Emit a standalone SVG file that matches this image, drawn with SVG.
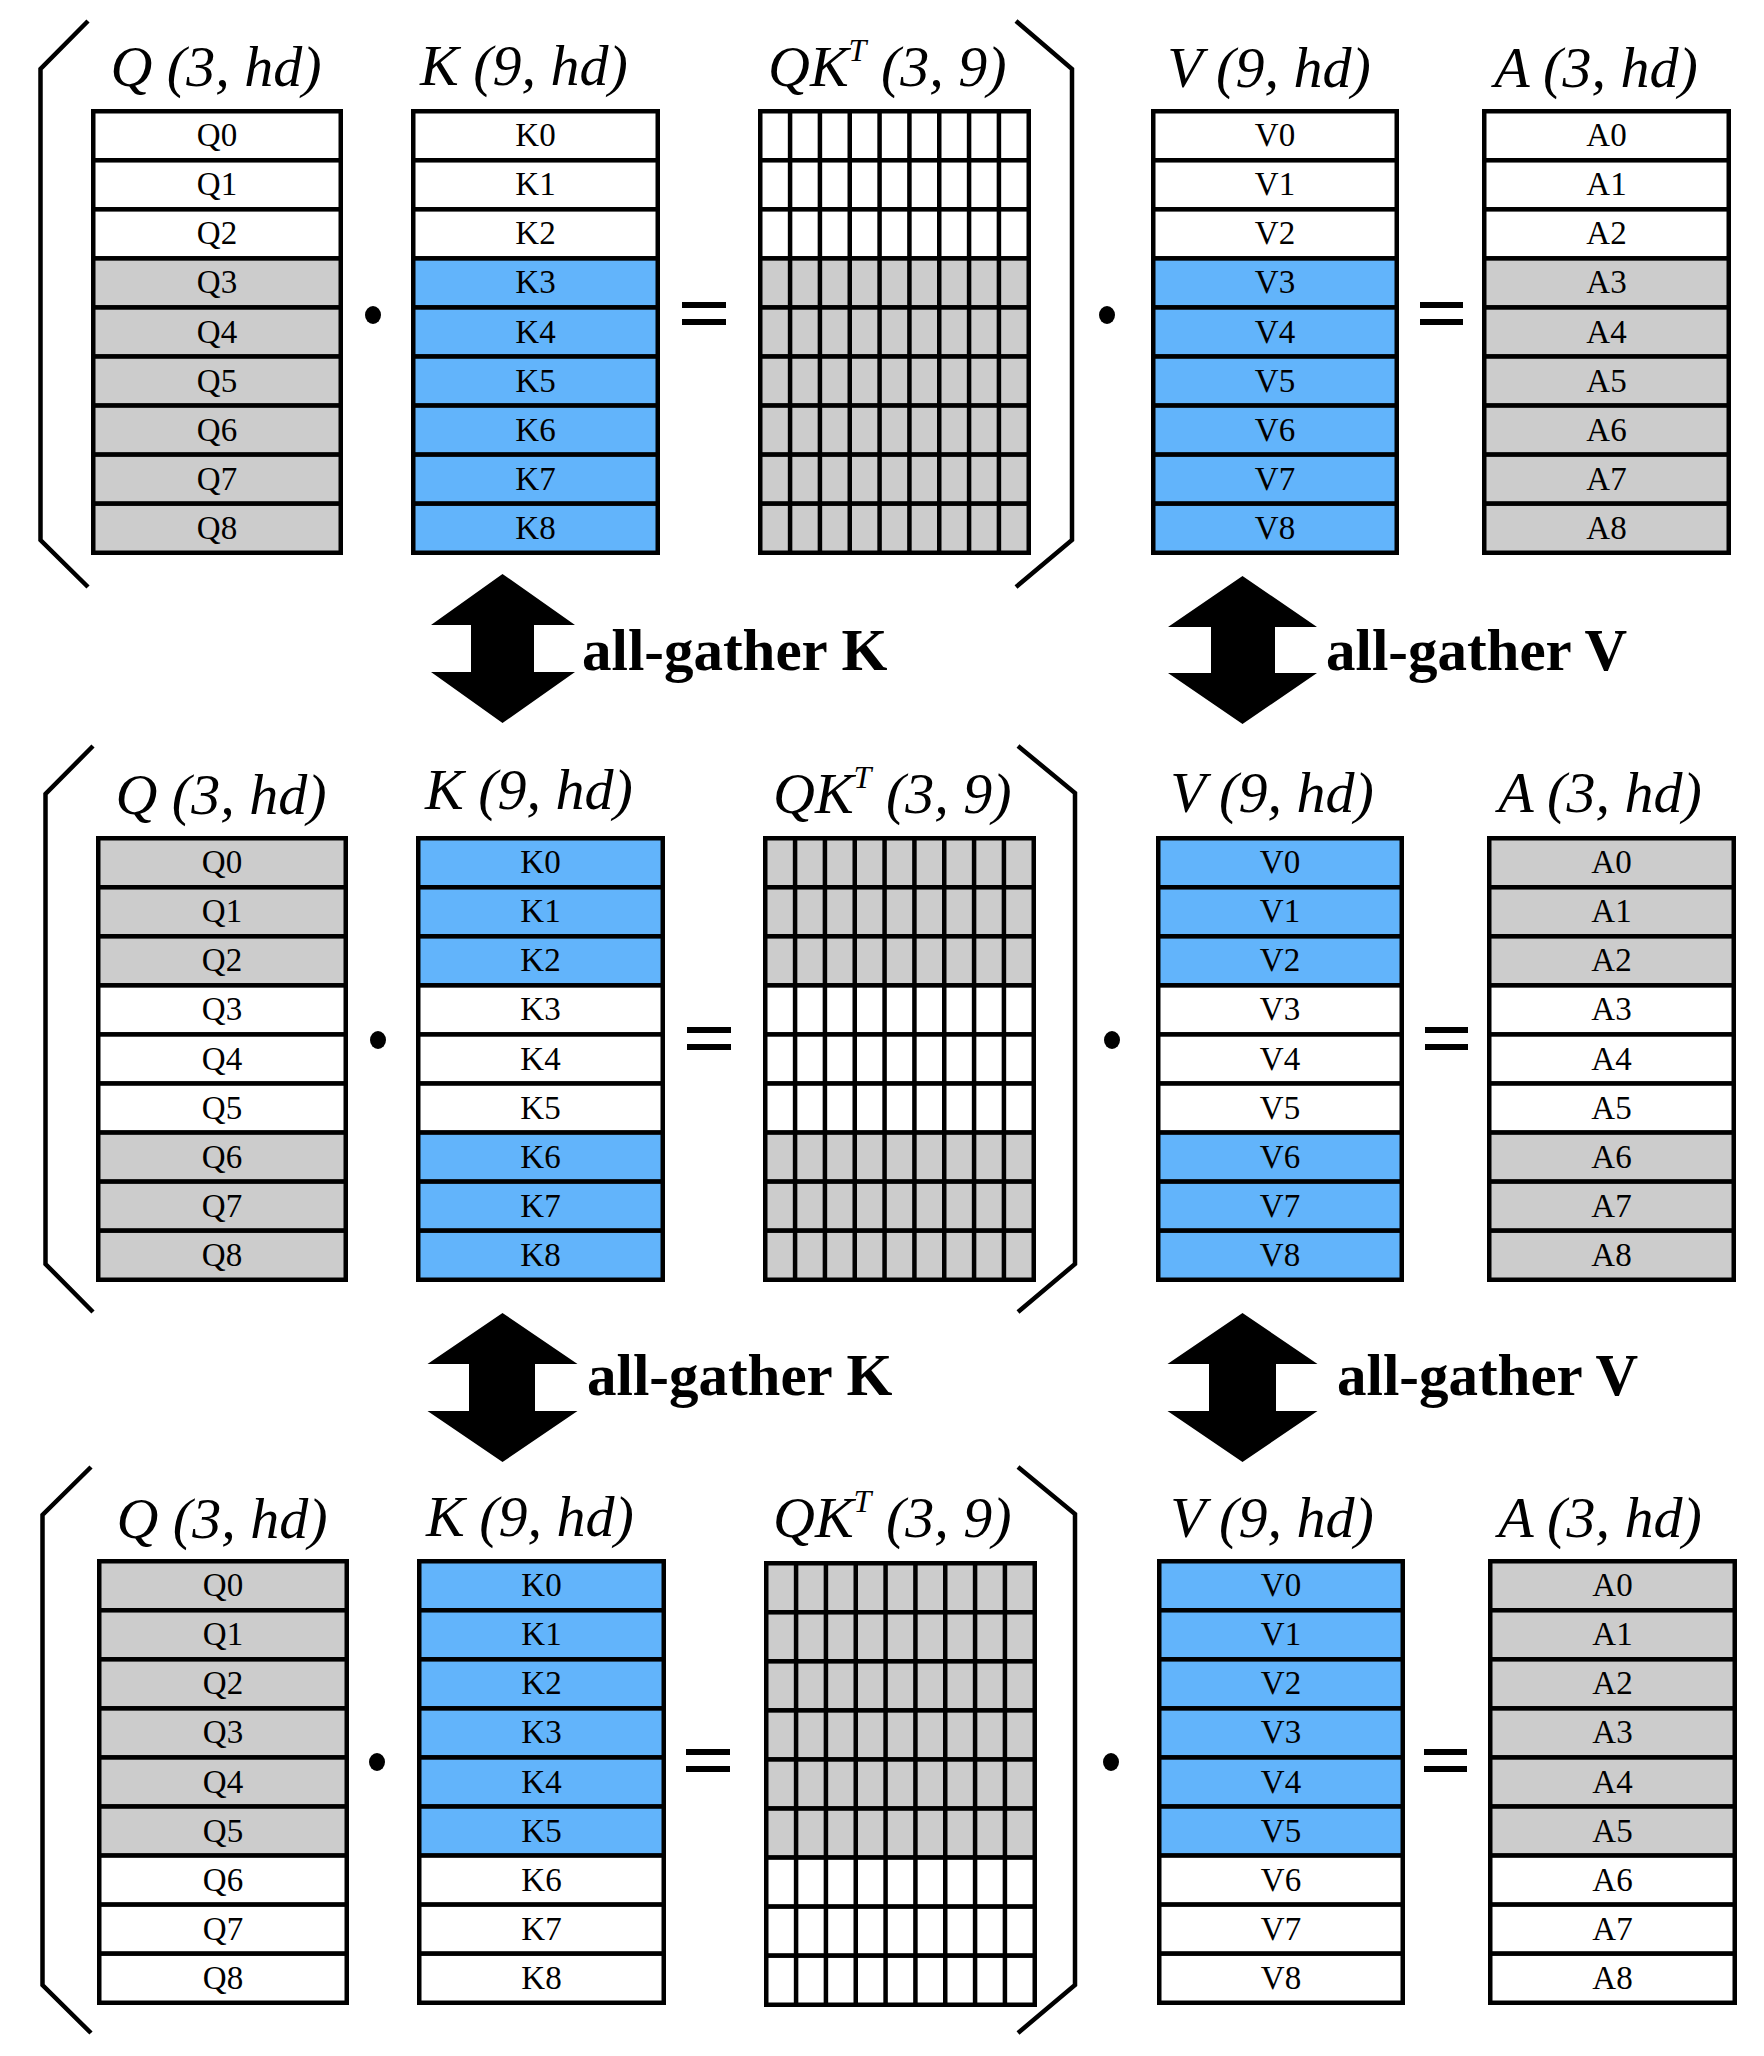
<svg xmlns="http://www.w3.org/2000/svg" width="1764" height="2056" viewBox="0 0 1764 2056">
<style>
.w{fill:#ffffff}.g{fill:#cccccc}.b{fill:#62b4fb}
rect.c{stroke:#000;stroke-width:4.5}
.lb{font-family:"Liberation Serif","Times New Roman",serif;font-size:33px;text-anchor:middle;fill:#000}
.tt{font-family:"Liberation Serif","Times New Roman",serif;font-style:italic;font-size:58px;fill:#000}
.ttm{text-anchor:middle}
.brk{fill:none;stroke:#000;stroke-width:4.5}
.gl{fill:none;stroke:#000;stroke-width:4.5}
.ag{font-family:"Liberation Serif","Times New Roman",serif;font-weight:bold;font-size:59px;fill:#000}
.arr{fill:#000}
</style>
<defs>
<path id="gridlines" class="gl" d="M32.08 2.25V443.75M61.92 2.25V443.75M91.75 2.25V443.75M121.58 2.25V443.75M151.42 2.25V443.75M181.25 2.25V443.75M211.08 2.25V443.75M240.92 2.25V443.75"/>
<g id="ops">
<ellipse cx="373" cy="315" rx="8" ry="9" fill="#000"/>
<rect x="682" y="302" width="44" height="6" fill="#000"/>
<rect x="682" y="319" width="44" height="6" fill="#000"/>
<ellipse cx="1107" cy="315" rx="8" ry="9" fill="#000"/>
<rect x="1420" y="302" width="43" height="6" fill="#000"/>
<rect x="1420" y="319" width="43" height="6" fill="#000"/>
</g>
</defs>

<!-- ================= PANEL 1 ================= -->
<g id="panel1">
<g id="p1-bracket-left"><path class="brk" d="M88 21L40.5 69V540L88 587"/></g>
<g id="p1-bracket-right"><path class="brk" d="M1016 21L1072 69V540L1016 587"/></g>
<g id="p1-titles">
<text class="tt ttm" x="216" y="86">Q (3, hd)</text>
<text class="tt ttm" x="524" y="85">K (9, hd)</text>
<text class="tt" x="768" y="86">QK<tspan font-size="32" dy="-25">T</tspan><tspan dy="25"> (3, 9)</tspan></text>
<text class="tt ttm" x="1269" y="87">V (9, hd)</text>
<text class="tt ttm" x="1596" y="87">A (3, hd)</text>
</g>
<g id="p1-ops"><use href="#ops"/></g>
<g id="p1-Q" transform="translate(91,109)">
<rect class="c w" x="2.25" y="2.25" width="247.5" height="49.06"/><rect class="c w" x="2.25" y="51.31" width="247.5" height="49.06"/><rect class="c w" x="2.25" y="100.36" width="247.5" height="49.06"/><rect class="c g" x="2.25" y="149.42" width="247.5" height="49.06"/><rect class="c g" x="2.25" y="198.47" width="247.5" height="49.06"/><rect class="c g" x="2.25" y="247.53" width="247.5" height="49.06"/><rect class="c g" x="2.25" y="296.58" width="247.5" height="49.06"/><rect class="c g" x="2.25" y="345.64" width="247.5" height="49.06"/><rect class="c g" x="2.25" y="394.69" width="247.5" height="49.06"/>
<text class="lb" x="126" y="37.3">Q0</text><text class="lb" x="126" y="86.3">Q1</text><text class="lb" x="126" y="135.4">Q2</text><text class="lb" x="126" y="184.4">Q3</text><text class="lb" x="126" y="233.5">Q4</text><text class="lb" x="126" y="282.6">Q5</text><text class="lb" x="126" y="331.6">Q6</text><text class="lb" x="126" y="380.7">Q7</text><text class="lb" x="126" y="429.7">Q8</text>
</g>
<g id="p1-K" transform="translate(411,109)">
<rect class="c w" x="2.25" y="2.25" width="244.5" height="49.06"/><rect class="c w" x="2.25" y="51.31" width="244.5" height="49.06"/><rect class="c w" x="2.25" y="100.36" width="244.5" height="49.06"/><rect class="c b" x="2.25" y="149.42" width="244.5" height="49.06"/><rect class="c b" x="2.25" y="198.47" width="244.5" height="49.06"/><rect class="c b" x="2.25" y="247.53" width="244.5" height="49.06"/><rect class="c b" x="2.25" y="296.58" width="244.5" height="49.06"/><rect class="c b" x="2.25" y="345.64" width="244.5" height="49.06"/><rect class="c b" x="2.25" y="394.69" width="244.5" height="49.06"/>
<text class="lb" x="124.5" y="37.3">K0</text><text class="lb" x="124.5" y="86.3">K1</text><text class="lb" x="124.5" y="135.4">K2</text><text class="lb" x="124.5" y="184.4">K3</text><text class="lb" x="124.5" y="233.5">K4</text><text class="lb" x="124.5" y="282.6">K5</text><text class="lb" x="124.5" y="331.6">K6</text><text class="lb" x="124.5" y="380.7">K7</text><text class="lb" x="124.5" y="429.7">K8</text>
</g>
<g id="p1-QKT" transform="translate(758,109)">
<rect class="c w" x="2.25" y="2.25" width="268.5" height="49.06"/><rect class="c w" x="2.25" y="51.31" width="268.5" height="49.06"/><rect class="c w" x="2.25" y="100.36" width="268.5" height="49.06"/><rect class="c g" x="2.25" y="149.42" width="268.5" height="49.06"/><rect class="c g" x="2.25" y="198.47" width="268.5" height="49.06"/><rect class="c g" x="2.25" y="247.53" width="268.5" height="49.06"/><rect class="c g" x="2.25" y="296.58" width="268.5" height="49.06"/><rect class="c g" x="2.25" y="345.64" width="268.5" height="49.06"/><rect class="c g" x="2.25" y="394.69" width="268.5" height="49.06"/>
<use href="#gridlines"/>
</g>
<g id="p1-V" transform="translate(1151,109)">
<rect class="c w" x="2.25" y="2.25" width="243.5" height="49.06"/><rect class="c w" x="2.25" y="51.31" width="243.5" height="49.06"/><rect class="c w" x="2.25" y="100.36" width="243.5" height="49.06"/><rect class="c b" x="2.25" y="149.42" width="243.5" height="49.06"/><rect class="c b" x="2.25" y="198.47" width="243.5" height="49.06"/><rect class="c b" x="2.25" y="247.53" width="243.5" height="49.06"/><rect class="c b" x="2.25" y="296.58" width="243.5" height="49.06"/><rect class="c b" x="2.25" y="345.64" width="243.5" height="49.06"/><rect class="c b" x="2.25" y="394.69" width="243.5" height="49.06"/>
<text class="lb" x="124" y="37.3">V0</text><text class="lb" x="124" y="86.3">V1</text><text class="lb" x="124" y="135.4">V2</text><text class="lb" x="124" y="184.4">V3</text><text class="lb" x="124" y="233.5">V4</text><text class="lb" x="124" y="282.6">V5</text><text class="lb" x="124" y="331.6">V6</text><text class="lb" x="124" y="380.7">V7</text><text class="lb" x="124" y="429.7">V8</text>
</g>
<g id="p1-A" transform="translate(1482,109)">
<rect class="c w" x="2.25" y="2.25" width="244.5" height="49.06"/><rect class="c w" x="2.25" y="51.31" width="244.5" height="49.06"/><rect class="c w" x="2.25" y="100.36" width="244.5" height="49.06"/><rect class="c g" x="2.25" y="149.42" width="244.5" height="49.06"/><rect class="c g" x="2.25" y="198.47" width="244.5" height="49.06"/><rect class="c g" x="2.25" y="247.53" width="244.5" height="49.06"/><rect class="c g" x="2.25" y="296.58" width="244.5" height="49.06"/><rect class="c g" x="2.25" y="345.64" width="244.5" height="49.06"/><rect class="c g" x="2.25" y="394.69" width="244.5" height="49.06"/>
<text class="lb" x="124.5" y="37.3">A0</text><text class="lb" x="124.5" y="86.3">A1</text><text class="lb" x="124.5" y="135.4">A2</text><text class="lb" x="124.5" y="184.4">A3</text><text class="lb" x="124.5" y="233.5">A4</text><text class="lb" x="124.5" y="282.6">A5</text><text class="lb" x="124.5" y="331.6">A6</text><text class="lb" x="124.5" y="380.7">A7</text><text class="lb" x="124.5" y="429.7">A8</text>
</g>
</g>

<!-- ================= PANEL 2 ================= -->
<g id="panel2" transform="translate(5,727)">
<g id="p2-bracket-left"><path class="brk" d="M88 19L40.5 67V537L88 585"/></g>
<g id="p2-bracket-right"><path class="brk" d="M1013 19L1070 66V537L1013 585"/></g>
<g id="p2-titles">
<text class="tt ttm" x="216" y="87">Q (3, hd)</text>
<text class="tt ttm" x="524" y="82">K (9, hd)</text>
<text class="tt" x="768" y="86">QK<tspan font-size="32" dy="-25">T</tspan><tspan dy="25"> (3, 9)</tspan></text>
<text class="tt ttm" x="1267" y="85">V (9, hd)</text>
<text class="tt ttm" x="1595" y="85">A (3, hd)</text>
</g>
<g id="p2-ops"><use href="#ops" transform="translate(0,-2)"/></g>
<g id="p2-Q" transform="translate(91,109)">
<rect class="c g" x="2.25" y="2.25" width="247.5" height="49.06"/><rect class="c g" x="2.25" y="51.31" width="247.5" height="49.06"/><rect class="c g" x="2.25" y="100.36" width="247.5" height="49.06"/><rect class="c w" x="2.25" y="149.42" width="247.5" height="49.06"/><rect class="c w" x="2.25" y="198.47" width="247.5" height="49.06"/><rect class="c w" x="2.25" y="247.53" width="247.5" height="49.06"/><rect class="c g" x="2.25" y="296.58" width="247.5" height="49.06"/><rect class="c g" x="2.25" y="345.64" width="247.5" height="49.06"/><rect class="c g" x="2.25" y="394.69" width="247.5" height="49.06"/>
<text class="lb" x="126" y="37.3">Q0</text><text class="lb" x="126" y="86.3">Q1</text><text class="lb" x="126" y="135.4">Q2</text><text class="lb" x="126" y="184.4">Q3</text><text class="lb" x="126" y="233.5">Q4</text><text class="lb" x="126" y="282.6">Q5</text><text class="lb" x="126" y="331.6">Q6</text><text class="lb" x="126" y="380.7">Q7</text><text class="lb" x="126" y="429.7">Q8</text>
</g>
<g id="p2-K" transform="translate(411,109)">
<rect class="c b" x="2.25" y="2.25" width="244.5" height="49.06"/><rect class="c b" x="2.25" y="51.31" width="244.5" height="49.06"/><rect class="c b" x="2.25" y="100.36" width="244.5" height="49.06"/><rect class="c w" x="2.25" y="149.42" width="244.5" height="49.06"/><rect class="c w" x="2.25" y="198.47" width="244.5" height="49.06"/><rect class="c w" x="2.25" y="247.53" width="244.5" height="49.06"/><rect class="c b" x="2.25" y="296.58" width="244.5" height="49.06"/><rect class="c b" x="2.25" y="345.64" width="244.5" height="49.06"/><rect class="c b" x="2.25" y="394.69" width="244.5" height="49.06"/>
<text class="lb" x="124.5" y="37.3">K0</text><text class="lb" x="124.5" y="86.3">K1</text><text class="lb" x="124.5" y="135.4">K2</text><text class="lb" x="124.5" y="184.4">K3</text><text class="lb" x="124.5" y="233.5">K4</text><text class="lb" x="124.5" y="282.6">K5</text><text class="lb" x="124.5" y="331.6">K6</text><text class="lb" x="124.5" y="380.7">K7</text><text class="lb" x="124.5" y="429.7">K8</text>
</g>
<g id="p2-QKT" transform="translate(758,109)">
<rect class="c g" x="2.25" y="2.25" width="268.5" height="49.06"/><rect class="c g" x="2.25" y="51.31" width="268.5" height="49.06"/><rect class="c g" x="2.25" y="100.36" width="268.5" height="49.06"/><rect class="c w" x="2.25" y="149.42" width="268.5" height="49.06"/><rect class="c w" x="2.25" y="198.47" width="268.5" height="49.06"/><rect class="c w" x="2.25" y="247.53" width="268.5" height="49.06"/><rect class="c g" x="2.25" y="296.58" width="268.5" height="49.06"/><rect class="c g" x="2.25" y="345.64" width="268.5" height="49.06"/><rect class="c g" x="2.25" y="394.69" width="268.5" height="49.06"/>
<use href="#gridlines"/>
</g>
<g id="p2-V" transform="translate(1151,109)">
<rect class="c b" x="2.25" y="2.25" width="243.5" height="49.06"/><rect class="c b" x="2.25" y="51.31" width="243.5" height="49.06"/><rect class="c b" x="2.25" y="100.36" width="243.5" height="49.06"/><rect class="c w" x="2.25" y="149.42" width="243.5" height="49.06"/><rect class="c w" x="2.25" y="198.47" width="243.5" height="49.06"/><rect class="c w" x="2.25" y="247.53" width="243.5" height="49.06"/><rect class="c b" x="2.25" y="296.58" width="243.5" height="49.06"/><rect class="c b" x="2.25" y="345.64" width="243.5" height="49.06"/><rect class="c b" x="2.25" y="394.69" width="243.5" height="49.06"/>
<text class="lb" x="124" y="37.3">V0</text><text class="lb" x="124" y="86.3">V1</text><text class="lb" x="124" y="135.4">V2</text><text class="lb" x="124" y="184.4">V3</text><text class="lb" x="124" y="233.5">V4</text><text class="lb" x="124" y="282.6">V5</text><text class="lb" x="124" y="331.6">V6</text><text class="lb" x="124" y="380.7">V7</text><text class="lb" x="124" y="429.7">V8</text>
</g>
<g id="p2-A" transform="translate(1482,109)">
<rect class="c g" x="2.25" y="2.25" width="244.5" height="49.06"/><rect class="c g" x="2.25" y="51.31" width="244.5" height="49.06"/><rect class="c g" x="2.25" y="100.36" width="244.5" height="49.06"/><rect class="c w" x="2.25" y="149.42" width="244.5" height="49.06"/><rect class="c w" x="2.25" y="198.47" width="244.5" height="49.06"/><rect class="c w" x="2.25" y="247.53" width="244.5" height="49.06"/><rect class="c g" x="2.25" y="296.58" width="244.5" height="49.06"/><rect class="c g" x="2.25" y="345.64" width="244.5" height="49.06"/><rect class="c g" x="2.25" y="394.69" width="244.5" height="49.06"/>
<text class="lb" x="124.5" y="37.3">A0</text><text class="lb" x="124.5" y="86.3">A1</text><text class="lb" x="124.5" y="135.4">A2</text><text class="lb" x="124.5" y="184.4">A3</text><text class="lb" x="124.5" y="233.5">A4</text><text class="lb" x="124.5" y="282.6">A5</text><text class="lb" x="124.5" y="331.6">A6</text><text class="lb" x="124.5" y="380.7">A7</text><text class="lb" x="124.5" y="429.7">A8</text>
</g>
</g>

<!-- ================= PANEL 3 ================= -->
<g id="panel3" transform="translate(6,1450)">
<g id="p3-bracket-left"><path class="brk" d="M85 17L36.5 65V535L85 583"/></g>
<g id="p3-bracket-right"><path class="brk" d="M1012 17L1069 64V535L1012 583"/></g>
<g id="p3-titles">
<text class="tt ttm" x="216" y="88">Q (3, hd)</text>
<text class="tt ttm" x="524" y="86">K (9, hd)</text>
<text class="tt" x="767" y="87">QK<tspan font-size="32" dy="-25">T</tspan><tspan dy="25"> (3, 9)</tspan></text>
<text class="tt ttm" x="1266" y="87">V (9, hd)</text>
<text class="tt ttm" x="1594" y="87">A (3, hd)</text>
</g>
<g id="p3-ops"><use href="#ops" transform="translate(-2,-3)"/></g>
<g id="p3-Q" transform="translate(91,109)">
<rect class="c g" x="2.25" y="2.25" width="247.5" height="49.06"/><rect class="c g" x="2.25" y="51.31" width="247.5" height="49.06"/><rect class="c g" x="2.25" y="100.36" width="247.5" height="49.06"/><rect class="c g" x="2.25" y="149.42" width="247.5" height="49.06"/><rect class="c g" x="2.25" y="198.47" width="247.5" height="49.06"/><rect class="c g" x="2.25" y="247.53" width="247.5" height="49.06"/><rect class="c w" x="2.25" y="296.58" width="247.5" height="49.06"/><rect class="c w" x="2.25" y="345.64" width="247.5" height="49.06"/><rect class="c w" x="2.25" y="394.69" width="247.5" height="49.06"/>
<text class="lb" x="126" y="37.3">Q0</text><text class="lb" x="126" y="86.3">Q1</text><text class="lb" x="126" y="135.4">Q2</text><text class="lb" x="126" y="184.4">Q3</text><text class="lb" x="126" y="233.5">Q4</text><text class="lb" x="126" y="282.6">Q5</text><text class="lb" x="126" y="331.6">Q6</text><text class="lb" x="126" y="380.7">Q7</text><text class="lb" x="126" y="429.7">Q8</text>
</g>
<g id="p3-K" transform="translate(411,109)">
<rect class="c b" x="2.25" y="2.25" width="244.5" height="49.06"/><rect class="c b" x="2.25" y="51.31" width="244.5" height="49.06"/><rect class="c b" x="2.25" y="100.36" width="244.5" height="49.06"/><rect class="c b" x="2.25" y="149.42" width="244.5" height="49.06"/><rect class="c b" x="2.25" y="198.47" width="244.5" height="49.06"/><rect class="c b" x="2.25" y="247.53" width="244.5" height="49.06"/><rect class="c w" x="2.25" y="296.58" width="244.5" height="49.06"/><rect class="c w" x="2.25" y="345.64" width="244.5" height="49.06"/><rect class="c w" x="2.25" y="394.69" width="244.5" height="49.06"/>
<text class="lb" x="124.5" y="37.3">K0</text><text class="lb" x="124.5" y="86.3">K1</text><text class="lb" x="124.5" y="135.4">K2</text><text class="lb" x="124.5" y="184.4">K3</text><text class="lb" x="124.5" y="233.5">K4</text><text class="lb" x="124.5" y="282.6">K5</text><text class="lb" x="124.5" y="331.6">K6</text><text class="lb" x="124.5" y="380.7">K7</text><text class="lb" x="124.5" y="429.7">K8</text>
</g>
<g id="p3-QKT" transform="translate(758,111)">
<rect class="c g" x="2.25" y="2.25" width="268.5" height="49.06"/><rect class="c g" x="2.25" y="51.31" width="268.5" height="49.06"/><rect class="c g" x="2.25" y="100.36" width="268.5" height="49.06"/><rect class="c g" x="2.25" y="149.42" width="268.5" height="49.06"/><rect class="c g" x="2.25" y="198.47" width="268.5" height="49.06"/><rect class="c g" x="2.25" y="247.53" width="268.5" height="49.06"/><rect class="c w" x="2.25" y="296.58" width="268.5" height="49.06"/><rect class="c w" x="2.25" y="345.64" width="268.5" height="49.06"/><rect class="c w" x="2.25" y="394.69" width="268.5" height="49.06"/>
<use href="#gridlines"/>
</g>
<g id="p3-V" transform="translate(1151,109)">
<rect class="c b" x="2.25" y="2.25" width="243.5" height="49.06"/><rect class="c b" x="2.25" y="51.31" width="243.5" height="49.06"/><rect class="c b" x="2.25" y="100.36" width="243.5" height="49.06"/><rect class="c b" x="2.25" y="149.42" width="243.5" height="49.06"/><rect class="c b" x="2.25" y="198.47" width="243.5" height="49.06"/><rect class="c b" x="2.25" y="247.53" width="243.5" height="49.06"/><rect class="c w" x="2.25" y="296.58" width="243.5" height="49.06"/><rect class="c w" x="2.25" y="345.64" width="243.5" height="49.06"/><rect class="c w" x="2.25" y="394.69" width="243.5" height="49.06"/>
<text class="lb" x="124" y="37.3">V0</text><text class="lb" x="124" y="86.3">V1</text><text class="lb" x="124" y="135.4">V2</text><text class="lb" x="124" y="184.4">V3</text><text class="lb" x="124" y="233.5">V4</text><text class="lb" x="124" y="282.6">V5</text><text class="lb" x="124" y="331.6">V6</text><text class="lb" x="124" y="380.7">V7</text><text class="lb" x="124" y="429.7">V8</text>
</g>
<g id="p3-A" transform="translate(1482,109)">
<rect class="c g" x="2.25" y="2.25" width="244.5" height="49.06"/><rect class="c g" x="2.25" y="51.31" width="244.5" height="49.06"/><rect class="c g" x="2.25" y="100.36" width="244.5" height="49.06"/><rect class="c g" x="2.25" y="149.42" width="244.5" height="49.06"/><rect class="c g" x="2.25" y="198.47" width="244.5" height="49.06"/><rect class="c g" x="2.25" y="247.53" width="244.5" height="49.06"/><rect class="c w" x="2.25" y="296.58" width="244.5" height="49.06"/><rect class="c w" x="2.25" y="345.64" width="244.5" height="49.06"/><rect class="c w" x="2.25" y="394.69" width="244.5" height="49.06"/>
<text class="lb" x="124.5" y="37.3">A0</text><text class="lb" x="124.5" y="86.3">A1</text><text class="lb" x="124.5" y="135.4">A2</text><text class="lb" x="124.5" y="184.4">A3</text><text class="lb" x="124.5" y="233.5">A4</text><text class="lb" x="124.5" y="282.6">A5</text><text class="lb" x="124.5" y="331.6">A6</text><text class="lb" x="124.5" y="380.7">A7</text><text class="lb" x="124.5" y="429.7">A8</text>
</g>
</g>

<!-- ================= CONNECTORS ================= -->
<g id="connectors">
<g id="allgather-K-1">
<polygon class="arr" points="502.5,574 575,625 534,625 534,672 575,672 502.5,723 431,672 471,672 471,625 431,625"/>
<text class="ag" x="582" y="670">all-gather K</text>
</g>
<g id="allgather-V-1">
<polygon class="arr" points="1242.5,576 1317,627 1275,627 1275,673 1317,673 1242.5,724 1168,673 1211,673 1211,627 1168,627"/>
<text class="ag" x="1326" y="670">all-gather V</text>
</g>
<g id="allgather-K-2">
<polygon class="arr" points="502.5,1313 577.5,1364 535,1364 535,1411 577.5,1411 502.5,1462 427.5,1411 469,1411 469,1364 427.5,1364"/>
<text class="ag" x="587" y="1395">all-gather K</text>
</g>
<g id="allgather-V-2">
<polygon class="arr" points="1242.5,1313 1317.5,1364 1276,1364 1276,1411 1317.5,1411 1242.5,1462 1167.5,1411 1209,1411 1209,1364 1167.5,1364"/>
<text class="ag" x="1337" y="1395">all-gather V</text>
</g>
</g>
</svg>
